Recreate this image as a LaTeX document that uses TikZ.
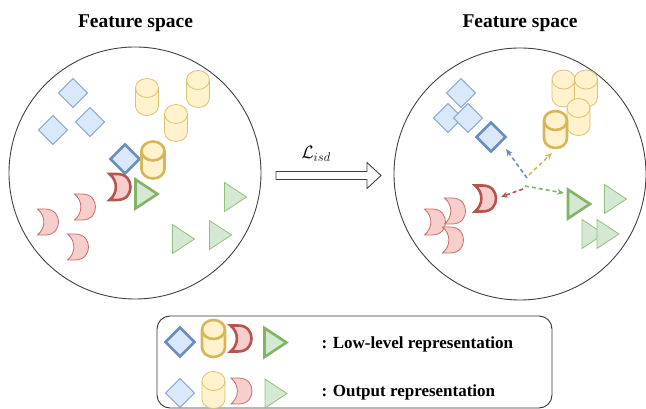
\RequirePackage{fix-cm}
\documentclass[tikz,border=0pt]{standalone}
\usepackage{fontspec}
\setmainfont{Liberation Serif}
\usetikzlibrary{arrows.meta}
\definecolor{bS}{HTML}{6C8EBF}\definecolor{bF}{HTML}{DAE8FC}
\definecolor{yS}{HTML}{D6B656}\definecolor{yF}{HTML}{FFF2CC}
\definecolor{rS}{HTML}{B85450}\definecolor{rF}{HTML}{F8CECC}
\definecolor{gS}{HTML}{82B366}\definecolor{gF}{HTML}{D5E8D4}
\tikzset{
  lowB/.style={draw=bS,fill=bF,line width=2.6pt},
  outB/.style={draw=bS!85,fill=bF,line width=0.8pt},
  lowY/.style={draw=yS,fill=yF,line width=2.6pt},
  outY/.style={draw=yS!85,fill=yF,line width=0.8pt},
  lowR/.style={draw=rS,fill=rF,line width=2.6pt},
  outR/.style={draw=rS!85,fill=rF,line width=0.8pt},
  lowG/.style={draw=gS,fill=gF,line width=2.6pt},
  outG/.style={draw=gS!85,fill=gF,line width=0.8pt},
  diam/.pic={\path[pic actions] (0,-14.5)--(14.5,0)--(0,14.5)--(-14.5,0)--cycle;},
  tri/.pic={\path[pic actions] (-11,-14.5)--(11,0)--(-11,14.5)--cycle;},
  cyl/.pic={
    \path[pic actions] (-11.5,-9) arc[start angle=180,end angle=360,x radius=11.5,y radius=9.5]
      -- (11.5,9) arc[start angle=0,end angle=180,x radius=11.5,y radius=9.5] -- cycle;
    \path[pic actions,fill=none] (-11.5,-9) arc[start angle=180,end angle=0,x radius=11.5,y radius=9.5];},
  moon/.pic={\path[pic actions] (-10.5,-13) -- (-3,-13) .. controls (7,-13) and (10.5,-6) .. (10.5,0)
      .. controls (10.5,6) and (7,13) .. (-3,13) -- (-10.5,13)
      .. controls (-2,6) and (-2,-6) .. (-10.5,-13) -- cycle;},
  space/.style={circle,draw=black!75,line width=0.9pt,inner sep=0pt},
  title/.style={font=\fontsize{19.5}{22}\selectfont\bfseries,anchor=base},
  legtext/.style={font=\fontsize{17}{20}\selectfont\bfseries,anchor=base west},
  dasharrow/.style={dash pattern=on 4pt off 3pt,line width=1.6pt,-{Stealth[length=7pt,width=6pt]}},
  bigarrow/.style={draw=black!75,line width=0.9pt,fill=white},
}
\begin{document}
\begin{tikzpicture}[x=1pt,y=-1pt]
\useasboundingbox (0,0) rectangle (646,409);
% titles
\node[title] (t1) at (135.5,28) {Feature space};
\node[title] (t2) at (520,28) {Feature space};
% circles
\node[space,minimum size=252pt] (lc) at (135,173) {};
\node[space,minimum size=252pt] (rc) at (520,174) {};
% big arrow
\draw[bigarrow] (276,171.5) -- (367,171.5) -- (367,162.5) -- (381,175.5) -- (367,188.5) -- (367,179.5) -- (276,179.5) -- cycle;
\node[font=\fontsize{18}{20}\selectfont] (loss) at (316,154) {$\mathcal{L}_{isd}$};
% left circle
\pic[outB] (lb1) at (73,93) {diam};
\pic[outB] (lb2) at (53,130) {diam};
\pic[outB] (lb3) at (90,122) {diam};
\pic[outY] (ly1) at (147,97) {cyl};
\pic[outY] (ly2) at (198,89) {cyl};
\pic[outY] (ly3) at (176,123) {cyl};
\pic[outR] (lr1) at (48,222) {moon};
\pic[outR] (lr2) at (85,207) {moon};
\pic[outR] (lr3) at (78,247) {moon};
\pic[outG] (lg1) at (235.5,197) {tri};
\pic[outG] (lg2) at (183.5,239) {tri};
\pic[outG] (lg3) at (220.5,235) {tri};
\pic[lowB] (lbB) at (125,159) {diam};
\pic[lowY] (lyB) at (153,160) {cyl};
\pic[lowR] (lrB) at (120,187) {moon};
\pic[lowG] (lgB) at (146.5,194) {tri};
% right circle
\pic[outB] (rb1) at (461,93) {diam};
\pic[outB] (rb2) at (448,118) {diam};
\pic[outB] (rb3) at (468,118) {diam};
\pic[outY] (ry1) at (563.5,88.5) {cyl};
\pic[outY] (ry2) at (586,88.5) {cyl};
\pic[outY] (ry3) at (578.5,117) {cyl};
\pic[outR] (rr1) at (435,222) {moon};
\pic[outR] (rr2) at (455,211) {moon};
\pic[outR] (rr3) at (453,240) {moon};
\pic[outG] (rg1) at (615.5,199) {tri};
\pic[outG] (rg2) at (593,234) {tri};
\pic[outG] (rg3) at (608,234) {tri};
\pic[lowB] (rbB) at (491,137) {diam};
\pic[lowY] (ryB) at (555.5,129.5) {cyl};
\pic[lowR] (rrB) at (485.5,198.5) {moon};
\pic[lowG] (rgB) at (579,204) {tri};
% dashed arrows
\coordinate (sb) at (527,178);
\coordinate (sy) at (529,175);
\coordinate (sr) at (523,189);
\coordinate (sg) at (525,186);
\coordinate (eb) at (506,149);
\coordinate (ey) at (552,153);
\coordinate (er) at (501,197);
\coordinate (eg) at (564,193);
\draw[dasharrow,bS] (sb) -- (eb);
\draw[dasharrow,yS] (sy) -- (ey);
\draw[dasharrow,rS] (sr) -- (er);
\draw[dasharrow,gS] (sg) -- (eg);
% legend
\node[draw=black!80,line width=0.9pt,rounded corners=13pt,minimum width=395pt,minimum height=92pt,inner sep=0pt] (legend) at (354.5,362) {};
\pic[lowB] (kb1) at (180,342) {diam};
\pic[lowY] (ky1) at (213.5,338.5) {cyl};
\pic[lowR] (kr1) at (241,338.5) {moon};
\pic[lowG] (kg1) at (275.5,342.5) {tri};
\pic[outB] (kb2) at (180,393) {diam};
\pic[outY] (ky2) at (213.5,390) {cyl};
\pic[outR] (kr2) at (241.5,391) {moon};
\pic[outG] (kg2) at (276,393.5) {tri};
\node[legtext] (l1) at (318,348) {: Low-level representation};
\node[legtext] (l2) at (318,396) {: Output representation};
\end{tikzpicture}
\end{document}
